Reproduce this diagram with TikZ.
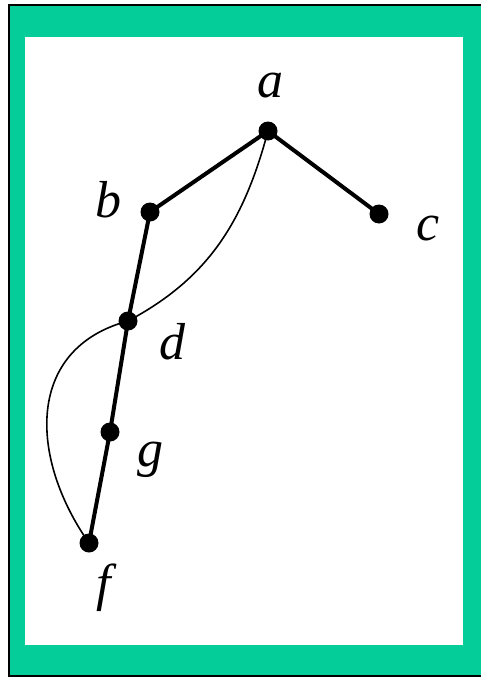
\documentclass[tikz,border=0pt]{standalone}
\usepackage{fontspec}
\setmainfont{Liberation Serif}
\definecolor{framegreen}{RGB}{5,205,153}
\begin{document}
\begin{tikzpicture}[x=1pt,y=-1pt,
  vertex/.style={circle,fill=black,draw=none,minimum size=19pt,inner sep=0pt},
  vlabel/.style={inner sep=0pt,font=\fontsize{52}{60}\selectfont\itshape},
  treeedge/.style={line width=4pt},
  backedge/.style={line width=1.6pt}]
\useasboundingbox (0,0) rectangle (481,677);
\fill[white] (0,0) rectangle (481,677);
\fill[black] (8,4) rectangle (481,677);
\fill[framegreen] (10,6) rectangle (481,675);
\fill[white] (25,37) rectangle (463,645);
% vertices
\node[vertex] (a) at (268,131) {};
\node[vertex] (b) at (150,212) {};
\node[vertex] (c) at (379,214) {};
\node[vertex] (d) at (128,321) {};
\node[vertex] (g) at (110,432) {};
\node[vertex] (f) at (89,543) {};
% labels
\node[vlabel] (la) at (270,86) {a};
\node[vlabel] (lb) at (108,200) {b};
\node[vlabel] (lc) at (428,229) {c};
\node[vlabel] (ld) at (172,342) {d};
\node[vlabel] (lg) at (150,460) {g};
\node[vlabel] (lf) at (104,588) {f};
% tree edges
\draw[treeedge] (a.center) -- (b.center);
\draw[treeedge] (a.center) -- (c.center);
\draw[treeedge] (b.center) -- (d.center);
\draw[treeedge] (d.center) -- (g.center);
\draw[treeedge] (g.center) -- (f.center);
% back edges
\draw[backedge] (a.center) to[out=-105,in=28] (d.center);
\draw[backedge] (d.center) to[out=195,in=125,looseness=1.2] (f.center);
\end{tikzpicture}
\end{document}
